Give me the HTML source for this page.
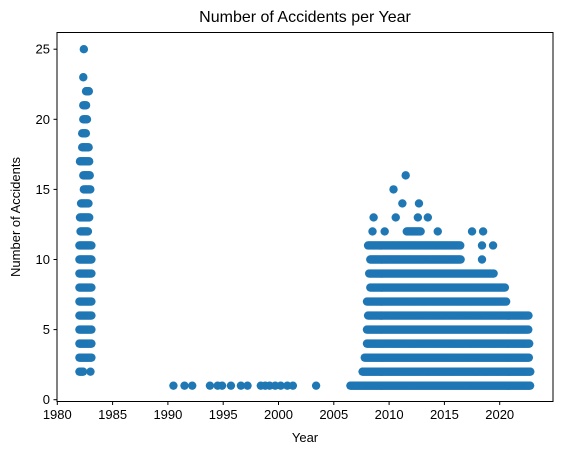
<!DOCTYPE html>
<html><head><meta charset="utf-8"><style>
body{margin:0;background:#fff;}
svg{display:block;font-family:"Liberation Sans","DejaVu Sans",sans-serif;}
</style></head><body>
<svg id="chart" width="562" height="455" viewBox="0 0 562 455" xmlns="http://www.w3.org/2000/svg">
<rect width="562" height="455" fill="#fff"/>
<text x="305" y="22" font-size="16" text-anchor="middle">Number of Accidents per Year</text>
<text x="305" y="442" font-size="13" text-anchor="middle">Year</text>
<text transform="translate(20,217) rotate(-90)" font-size="13" text-anchor="middle">Number of Accidents</text>
<g id="marks"></g>
<g id="axes"></g>
<rect x="57" y="32.5" width="496" height="369" fill="none" stroke="#000" stroke-width="1"/>
</svg>
<script>
const xTicks = [1980,1985,1990,1995,2000,2005,2010,2015,2020];
const yTicks = [0,5,10,15,20,25];
// rows: count value and [startYear,endYear] segments of monthly records
const rowCounts = [1,2,3,4,5,6,7,8,9,10,11,12,13,14,15,16,17,18,19,20,21,22,23,25];
const rowSegments = [
 [[1990.5,1990.5],[1991.5,1991.5],[1992.2,1992.2],[1993.8,1993.8],[1994.5,1994.5],[1994.9,1994.9],[1995.7,1995.7],[1996.6,1996.6],[1997.2,1997.2],[1998.4,1998.4],[1998.8,1998.8],[1999.2,1999.2],[1999.7,1999.7],[2000.2,2000.2],[2000.8,2000.8],[2001.3,2001.3],[2003.4,2003.4],[2006.5,2022.8]],
 [[1982.0,1982.4],[1983.0,1983.0],[2007.6,2022.8]],
 [[1982.0,1983.1],[2007.8,2022.7]],
 [[1982.0,1983.1],[2008.0,2022.7]],
 [[1982.0,1983.1],[2008.0,2022.6]],
 [[1982.0,1983.1],[2008.1,2022.6]],
 [[1982.0,1983.1],[2008.0,2020.6]],
 [[1982.0,1983.1],[2008.3,2020.5]],
 [[1982.0,1983.1],[2008.2,2019.5]],
 [[1982.0,1983.1],[2008.3,2016.5],[2018.4,2018.4]],
 [[1982.0,1983.1],[2008.1,2016.5],[2018.4,2018.4],[2019.4,2019.4]],
 [[1982.1,1982.8],[2008.5,2008.5],[2009.6,2009.6],[2011.6,2012.9],[2014.4,2014.4],[2017.5,2017.5],[2018.5,2018.5]],
 [[1982.05,1982.9],[2008.6,2008.6],[2010.6,2010.6],[2012.6,2012.6],[2013.5,2013.5]],
 [[1982.15,1982.85],[2011.2,2011.2],[2012.7,2012.7]],
 [[1982.4,1983.0],[2010.4,2010.4]],
 [[1982.35,1983.0],[2011.5,2011.5]],
 [[1982.05,1982.9]],
 [[1982.25,1982.9]],
 [[1982.25,1982.6]],
 [[1982.35,1982.75]],
 [[1982.35,1982.65]],
 [[1982.6,1982.9]],
 [[1982.35,1982.35]],
 [[1982.4,1982.4]]
];
const NS='http://www.w3.org/2000/svg';
function xs(v){return 57.3+(v-1980)*11.06;}
function ys(v){return 399.7-v*14.02;}
const marks=document.getElementById('marks');
rowCounts.forEach((c,i)=>{
  rowSegments[i].forEach(seg=>{
    for(let t=seg[0]; t<=seg[1]+1e-6; t+=1/12){
      const p=document.createElementNS(NS,'circle');
      p.setAttribute('cx',xs(t).toFixed(2));
      p.setAttribute('cy',ys(c).toFixed(2));
      p.setAttribute('r','4.2');
      p.setAttribute('fill','#1f77b4');
      
      
      marks.appendChild(p);
    }
  });
});
const axes=document.getElementById('axes');
xTicks.forEach(v=>{
  const l=document.createElementNS(NS,'line');
  l.setAttribute('x1',xs(v));l.setAttribute('x2',xs(v));
  l.setAttribute('y1',401.5);l.setAttribute('y2',405);
  l.setAttribute('stroke','#000');
  
  
  axes.appendChild(l);
  const t=document.createElementNS(NS,'text');
  t.setAttribute('x',xs(v));t.setAttribute('y',419);
  t.setAttribute('font-size','13');t.setAttribute('text-anchor','middle');
  
  
  t.textContent=v;
  axes.appendChild(t);
});
yTicks.forEach(v=>{
  const l=document.createElementNS(NS,'line');
  l.setAttribute('x1',53.5);l.setAttribute('x2',57);
  l.setAttribute('y1',ys(v));l.setAttribute('y2',ys(v));
  l.setAttribute('stroke','#000');
  
  
  axes.appendChild(l);
  const t=document.createElementNS(NS,'text');
  t.setAttribute('x',50);t.setAttribute('y',ys(v)+4.5);
  t.setAttribute('font-size','13');t.setAttribute('text-anchor','end');
  
  
  t.textContent=v;
  axes.appendChild(t);
});
</script>
</body></html>
